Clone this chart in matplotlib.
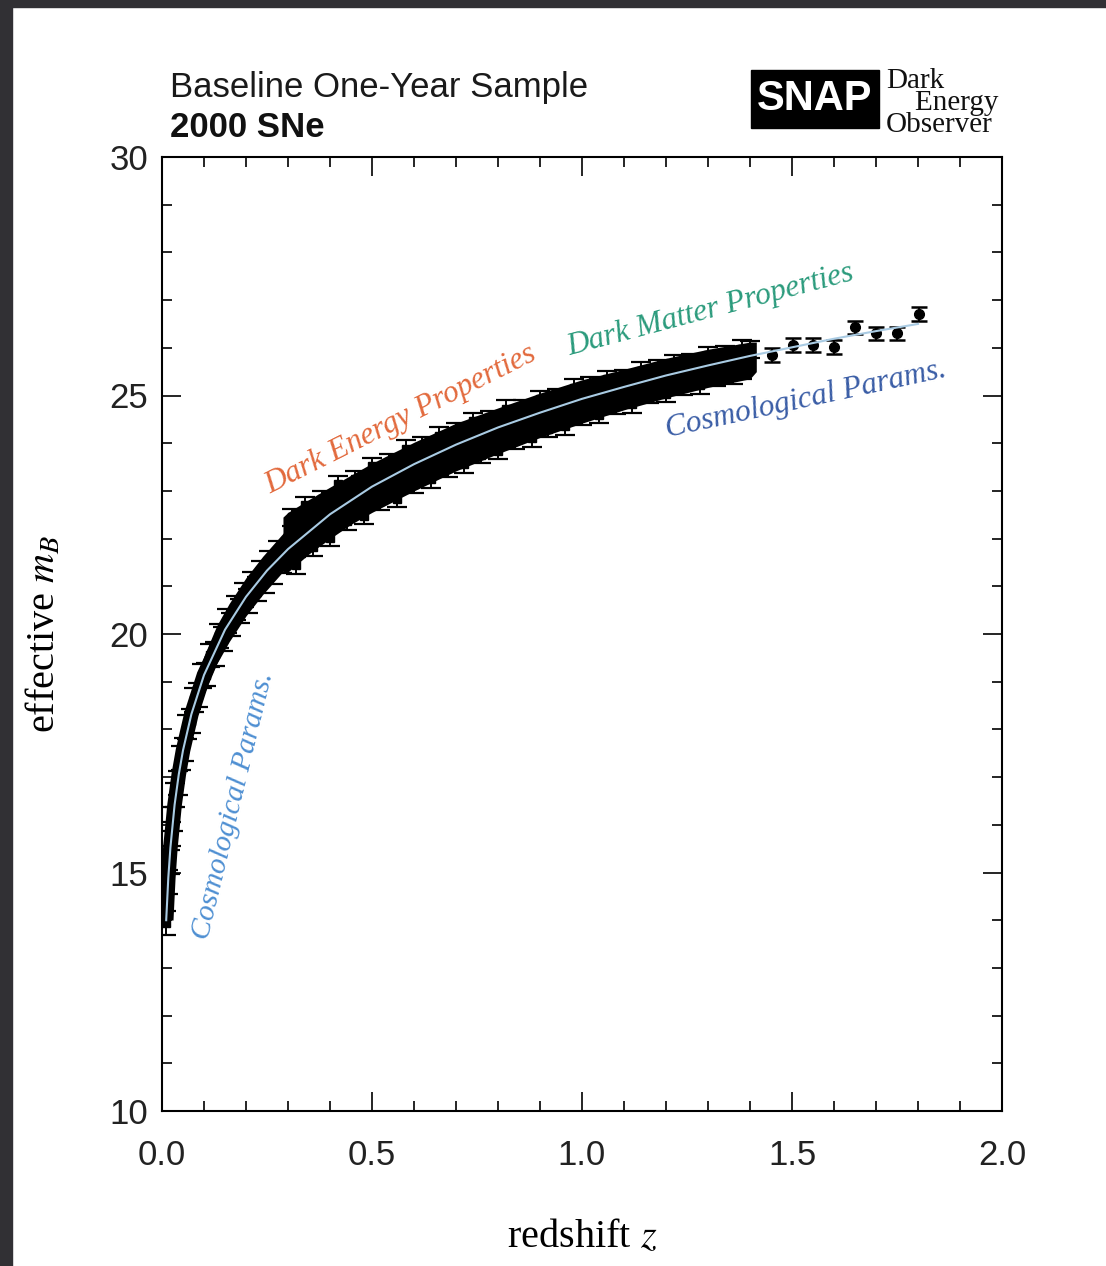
import matplotlib
matplotlib.use("Agg")
import matplotlib.pyplot as plt
from matplotlib.patches import Rectangle
from matplotlib.ticker import MultipleLocator, FormatStrFormatter

plt.rcParams["mathtext.fontset"] = "stix"

# Model Hubble curve (redshift, effective magnitude)
curve_z = [0.010, 0.015, 0.020, 0.030, 0.040, 0.050, 0.070, 0.100, 0.150, 0.200,
           0.250, 0.300, 0.400, 0.500, 0.600, 0.700, 0.800, 0.900, 1.000, 1.100,
           1.200, 1.300, 1.400, 1.500, 1.600, 1.700, 1.800]
curve_m = [14.00, 14.89, 15.52, 16.42, 17.06, 17.56, 18.32, 19.14, 20.09, 20.78,
           21.33, 21.78, 22.51, 23.09, 23.56, 23.97, 24.33, 24.64, 24.93, 25.18,
           25.42, 25.63, 25.83, 26.01, 26.19, 26.35, 26.50]

# Extent of the nearby sample (redshift, upper and lower magnitude)
near_z = [0.05, 0.07, 0.10, 0.13, 0.16, 0.20, 0.24, 0.29]
near_hi = [17.96, 18.72, 19.54, 20.17, 20.64, 21.18, 21.63, 22.13]
near_lo = [17.16, 17.92, 18.74, 19.37, 19.84, 20.38, 20.83, 21.33]

# Extent of the deep survey sample (redshift, upper and lower magnitude)
deep_z = [0.288, 0.30, 0.35, 0.40, 0.45, 0.50, 0.60, 0.70, 0.80, 0.90, 1.00, 1.10,
          1.20, 1.30, 1.40, 1.415]
deep_hi = [22.45, 22.55, 22.82, 23.08, 23.33, 23.58, 24.02, 24.42, 24.74, 25.05, 25.33,
           25.55, 25.78, 25.97, 26.12, 26.12]
deep_lo = [21.30, 21.30, 21.68, 22.00, 22.30, 22.55, 23.00, 23.42, 23.78, 24.12, 24.42,
           24.70, 24.95, 25.17, 25.35, 25.50]

# Individual supernovae with errors
low_z = [0.010, 0.014, 0.018, 0.022, 0.027, 0.032, 0.038, 0.045, 0.052, 0.060, 0.068,
         0.077, 0.086, 0.095, 0.105, 0.115, 0.125, 0.135, 0.145, 0.155, 0.165, 0.175,
         0.185, 0.195, 0.205, 0.215, 0.225, 0.235, 0.245, 0.255, 0.265, 0.275, 0.285]
low_m = [13.95, 14.80, 15.22, 15.80, 16.12, 16.62, 16.88, 17.40, 17.58, 18.05, 18.18,
         18.62, 18.72, 19.12, 19.15, 19.55, 19.58, 19.95, 19.90, 20.28, 20.20, 20.55,
         20.48, 20.82, 20.70, 21.05, 20.95, 21.28, 21.12, 21.50, 21.30, 21.70, 21.52]
low_err = 0.25

top_z = [0.31, 0.34, 0.38, 0.42, 0.46, 0.50, 0.54, 0.58, 0.62, 0.66, 0.70, 0.74, 0.78,
         0.82, 0.86, 0.90, 0.94, 0.98, 1.02, 1.06, 1.10, 1.14, 1.18, 1.22, 1.26, 1.30,
         1.34, 1.38, 1.40]
top_m = [22.45, 22.70, 22.82, 23.14, 23.24, 23.52, 23.60, 23.88, 23.95, 24.16, 24.24,
         24.46, 24.50, 24.72, 24.72, 24.92, 24.96, 25.16, 25.20, 25.34, 25.36, 25.52,
         25.56, 25.66, 25.70, 25.84, 25.86, 25.98, 25.96]
bot_z = [0.32, 0.36, 0.40, 0.44, 0.48, 0.52, 0.56, 0.60, 0.64, 0.68, 0.72, 0.76, 0.80,
         0.84, 0.88, 0.92, 0.96, 1.00, 1.04, 1.08, 1.12, 1.16, 1.20, 1.24, 1.28, 1.32,
         1.36, 1.38]
bot_m = [21.44, 21.82, 22.02, 22.36, 22.48, 22.78, 22.84, 23.14, 23.24, 23.48, 23.56,
         23.76, 23.84, 24.06, 24.10, 24.30, 24.36, 24.56, 24.60, 24.80, 24.82, 25.02,
         25.04, 25.20, 25.22, 25.38, 25.42, 25.53]
edge_err = 0.18

high_z = [1.452, 1.502, 1.551, 1.600, 1.650, 1.700, 1.749, 1.802]
high_m = [25.85, 26.06, 26.06, 26.02, 26.43, 26.30, 26.30, 26.71]
high_err = [0.14, 0.14, 0.14, 0.15, 0.14, 0.14, 0.14, 0.14]

x_ticks = [0.0, 0.5, 1.0, 1.5, 2.0]
y_ticks = [10, 15, 20, 25, 30]

W, H = 1106, 1266
fig = plt.figure(figsize=(W / 100, H / 100), dpi=100)
fig.patch.set_facecolor("white")
dark = "#313034"
fig.patches.append(Rectangle((0, 1 - 7 / H), 1, 7 / H, transform=fig.transFigure,
                             color=dark, zorder=-5))
fig.patches.append(Rectangle((0, 0), 12 / W, 1, transform=fig.transFigure,
                             color=dark, zorder=-5))

ax = fig.add_axes([162 / W, 155 / H, 840 / W, 954 / H])
ax.set_xlim(0, 2)
ax.set_ylim(10, 30)

# Dense sample regions: the nearby stack follows the curve, the deep survey fills a band
ax.plot(curve_z[:12], curve_m[:12], color="black", lw=10.5, solid_capstyle="butt", zorder=2)
ax.fill_between(near_z, near_lo, near_hi, color="black", lw=0, zorder=2)
ax.fill_between(deep_z, deep_lo, deep_hi, color="black", lw=0, zorder=2)

eb = dict(fmt="s", color="black", ms=6, elinewidth=1.4, capsize=7, capthick=1.6, zorder=3)
ax.errorbar(low_z, low_m, yerr=low_err, **eb)
ax.errorbar(top_z, top_m, yerr=edge_err, **eb)
ax.errorbar(bot_z, bot_m, yerr=edge_err, **eb)
ax.errorbar(high_z, high_m, yerr=high_err, fmt="o", color="black", ms=7,
            elinewidth=1.4, capsize=6, capthick=1.8, zorder=3)

ax.plot(curve_z, curve_m, color="#a9cbe3", lw=1.5, zorder=4)

# Axis styling
ax.xaxis.set_minor_locator(MultipleLocator(0.1))
ax.yaxis.set_minor_locator(MultipleLocator(1))
ax.set_xticks(x_ticks)
ax.set_yticks(y_ticks)
ax.xaxis.set_major_formatter(FormatStrFormatter("%.1f"))
ax.yaxis.set_major_formatter(FormatStrFormatter("%d"))
ax.tick_params(which="both", direction="in", top=True, right=True, width=1.2,
               colors="black", labelcolor="#222222")
ax.tick_params(which="major", length=14, labelsize=25)
ax.tick_params(which="minor", length=7)
ax.tick_params(axis="x", which="major", pad=20)
ax.tick_params(axis="y", which="major", pad=10)
for lab in ax.get_xticklabels() + ax.get_yticklabels():
    lab.set_fontfamily("Liberation Sans")
for s in ax.spines.values():
    s.set_linewidth(1.5)

ax.set_xlabel("redshift $z$", family="Liberation Serif", fontsize=29, labelpad=34)
ax.set_ylabel("effective $m_B$", family="Liberation Serif", fontsize=29, labelpad=33)

# Annotations along the curve
ann = dict(family="Liberation Serif", style="italic", fontsize=22.5,
           ha="center", va="center", rotation_mode="anchor", zorder=5)
ax.text(0.569, 24.49, "Dark Energy Properties", color="#e2693c", rotation=26.7, **ann)
ax.text(1.305, 26.79, "Dark Matter Properties", color="#2b9b7c", rotation=14.8, **ann)
ax.text(1.533, 24.91, "Cosmological Params.", color="#3a5da6", rotation=12.2, **ann)
ann["fontsize"] = 21.5
ax.text(0.171, 16.41, "Cosmological Params.", color="#4e8fd2", rotation=76.4, **ann)

# Header
fig.text(170 / W, 1 - 97 / H, "Baseline One-Year Sample", family="Liberation Sans",
         fontsize=25, color="#1a1a1a", va="baseline", ha="left")
fig.text(170 / W, 1 - 137 / H, "2000 SNe", family="Liberation Sans", fontweight="bold",
         fontsize=25, color="#111111", va="baseline", ha="left")

fig.patches.append(Rectangle((751 / W, 1 - 128 / H), 128 / W, 58 / H,
                             transform=fig.transFigure, color="black", zorder=2))
fig.text(815 / W, 1 - 99 / H, "SNAP", family="Liberation Sans", fontweight="bold",
         fontsize=30, color="white", ha="center", va="center", zorder=3)
fig.text(886 / W, 1 - 132 / H, "Dark\n    Energy\nObserver", family="Liberation Serif",
         fontsize=21, color="#111111", va="baseline", ha="left", linespacing=0.8)

fig.savefig("out.png", dpi=100, facecolor=fig.get_facecolor())
